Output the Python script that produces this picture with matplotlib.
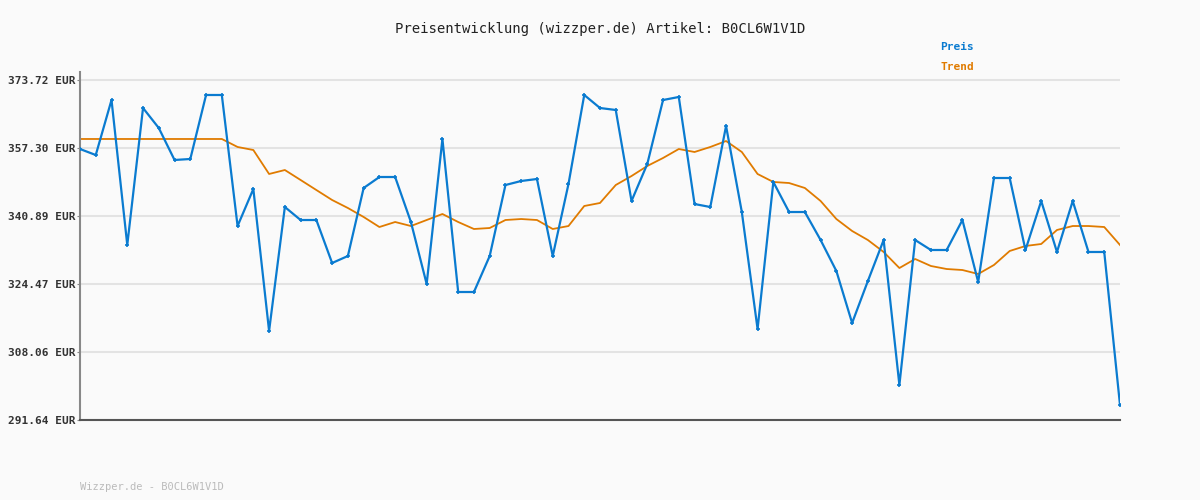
import matplotlib
matplotlib.use("Agg")
import matplotlib.pyplot as plt
import numpy as np

preis = [357.06, 355.61, 368.89, 333.89, 366.96, 362.13, 354.41, 354.65, 370.10, 370.10,
         338.47, 347.41, 313.13, 343.06, 339.92, 339.92, 329.54, 331.23, 347.65, 350.30,
         350.30, 339.44, 324.47, 359.48, 322.54, 322.54, 331.23, 348.37, 349.34, 349.82,
         331.23, 348.61, 370.10, 366.96, 366.48, 344.51, 353.44, 368.89, 369.62, 343.78,
         343.06, 362.62, 341.85, 313.61, 349.10, 341.85, 341.85, 335.09, 327.61, 315.06,
         325.20, 335.09, 300.09, 335.09, 332.68, 332.68, 339.92, 324.95, 350.06, 350.06,
         332.68, 344.51, 332.20, 344.51, 332.20, 332.20, 295.26]
trend = [359.48] * 10 + [
         357.55, 356.82, 351.03, 351.99, 349.58, 347.16, 344.75, 342.82, 340.65, 338.23,
         339.44, 338.47, 339.92, 341.37, 339.44, 337.75, 337.99, 339.92, 340.16, 339.92,
         337.75, 338.47, 343.30, 344.03, 348.37, 350.54, 352.96, 354.89, 357.06, 356.34,
         357.55, 358.99, 356.34, 351.03, 349.10, 348.85, 347.65, 344.51, 340.16, 337.27,
         335.09, 332.20, 328.33, 330.51, 328.82, 328.09, 327.85, 326.89, 329.06, 332.44,
         333.65, 334.13, 337.51, 338.47, 338.47, 338.23, 333.89]
yticks = [291.64, 308.06, 324.47, 340.89, 357.30, 373.72]

plt.rcParams['font.family'] = 'DejaVu Sans Mono'
bg = '#fafafa'
fig = plt.figure(figsize=(12, 5), dpi=100, facecolor=bg)
ax = fig.add_axes([80/1200, 0.16, 1040/1200, 0.856 - 0.16])
ax.set_facecolor(bg)
x = np.arange(len(preis))
ax.plot(x, trend, color='#e07b00', lw=1.3, zorder=2)
ax.plot(x, preis, color='#0a7bd0', lw=1.6, marker='+', ms=3, mew=1.2, zorder=3)

ax.set_xlim(0, len(preis) - 1)
top = 373.72 + 8 * 82.08 / 340
ax.set_ylim(291.64, top)
ax.set_yticks(yticks)
ax.set_yticklabels([f"{v:.2f} EUR" for v in yticks], fontsize=8, fontweight='bold', color='#333333')
ax.set_xticks([])
ax.grid(axis='y', color='#e3e3e3', lw=1.5)
ax.tick_params(axis='y', length=2, color='#888888', pad=1)
for s in ['top', 'right']:
    ax.spines[s].set_visible(False)
ax.spines['left'].set_color('#888888')
ax.spines['left'].set_linewidth(1.5)
ax.spines['bottom'].set_color('#555555')
ax.spines['bottom'].set_linewidth(1.5)

fig.text(0.5, 1 - 29/500, "Preisentwicklung (wizzper.de) Artikel: B0CL6W1V1D",
         ha='center', va='center', fontsize=10, color='#222222')
fig.text(957/1200, 1 - 47/500, "Preis", ha='center', va='center', fontsize=8,
         fontweight='bold', color='#0a7bd0')
fig.text(957/1200, 1 - 67/500, "Trend", ha='center', va='center', fontsize=8,
         fontweight='bold', color='#e07b00')
fig.text(80/1200, 1 - 487/500, "Wizzper.de - B0CL6W1V1D", ha='left', va='center',
         fontsize=7.5, color='#bbbbbb')

fig.savefig('out.png', dpi=100, facecolor=bg)
